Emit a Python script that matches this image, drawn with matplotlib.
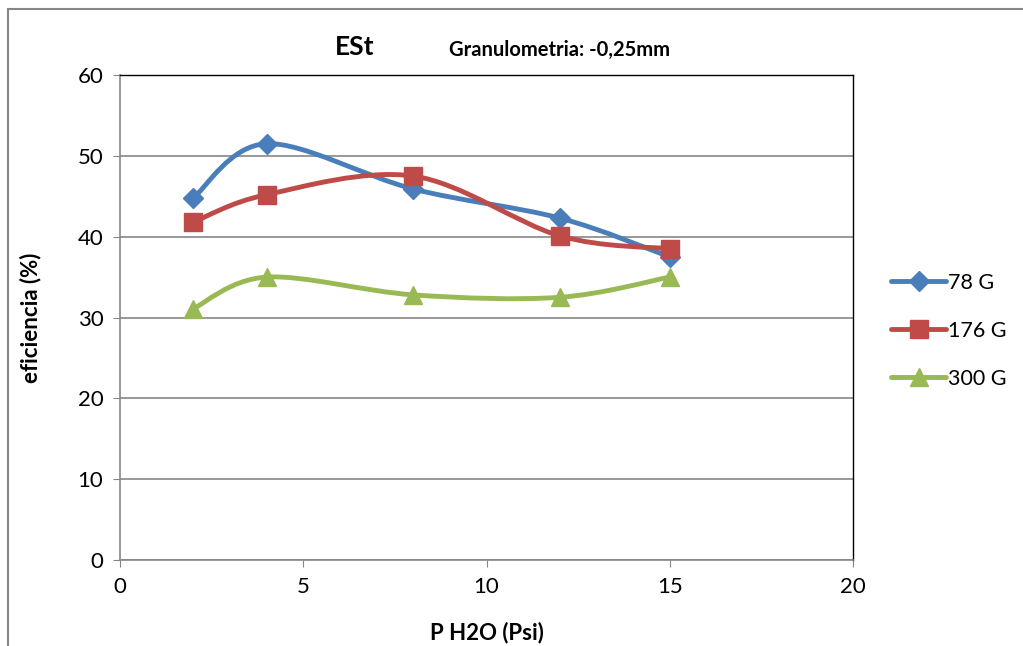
import numpy as np
import matplotlib.pyplot as plt
from matplotlib.path import Path
from matplotlib.patches import PathPatch
from matplotlib.lines import Line2D

plt.rcParams['font.family'] = ['Lato', 'DejaVu Sans']

# Data
psi = [2, 4, 8, 12, 15]
ef_78 = [44.8, 51.5, 45.9, 42.3, 37.5]
ef_176 = [41.8, 45.2, 47.5, 40.1, 38.5]
ef_300 = [31.1, 35.0, 32.8, 32.5, 35.0]

labels = ['78 G', '176 G', '300 G']
colors = ['#4a7ebb', '#be4b48', '#98b954']
markers = ['D', 's', '^']
msizes = [10, 13, 13]


def smooth_path(x, y):
    # cubic bezier through all points (catmull-rom style tangents)
    pts = np.column_stack([x, y]).astype(float)
    n = len(pts)
    verts = [pts[0]]
    codes = [Path.MOVETO]
    for i in range(n - 1):
        p0 = pts[i - 1] if i > 0 else pts[i]
        p1 = pts[i]
        p2 = pts[i + 1]
        p3 = pts[i + 2] if i + 2 < n else pts[i + 1]
        c1 = p1 + (p2 - p0) / 6.0
        c2 = p2 - (p3 - p1) / 6.0
        verts += [c1, c2, p2]
        codes += [Path.CURVE4] * 3
    return Path(verts, codes)


fig = plt.figure(figsize=(10.23, 6.46), dpi=100)
ax = fig.add_axes([120 / 1023, 1 - 560 / 646, (853 - 120) / 1023, (560 - 75) / 646])

for vals, c, m, ms, lab in zip([ef_78, ef_176, ef_300], colors, markers, msizes, labels):
    patch = PathPatch(smooth_path(psi, vals), facecolor='none', edgecolor=c,
                      linewidth=3.5, capstyle='round', joinstyle='round', zorder=3)
    ax.add_patch(patch)
    ax.plot(psi, vals, linestyle='none', marker=m, markersize=ms, color=c,
            markeredgecolor=c, zorder=4)

ax.set_xlim(0, 20)
ax.set_ylim(0, 60)
ax.set_xticks([0, 5, 10, 15, 20])
ax.set_yticks(range(0, 61, 10))
ax.grid(axis='y', color='#868686', linewidth=1.2)
ax.set_axisbelow(True)
ax.tick_params(labelsize=16, length=5, color='#868686', direction='out', pad=7)
for s in ['left', 'bottom']:
    ax.spines[s].set_color('#868686')
    ax.spines[s].set_linewidth(1.2)
for s in ['top', 'right']:
    ax.spines[s].set_color('#000000')
    ax.spines[s].set_linewidth(1.0)

ax.set_xlabel('P H2O (Psi)', fontsize=16, fontweight='bold', labelpad=18)
ax.set_ylabel('eficiencia (%)', fontsize=16, fontweight='bold', labelpad=26)

fig.text(355 / 1023, 1 - 47 / 646, 'ESt', fontsize=19, fontweight='bold',
         ha='center', va='center')
fig.text(449 / 1023, 1 - 50 / 646, 'Granulometria: -0,25mm', fontsize=14.5,
         fontweight='bold', ha='left', va='center')

# legend on the right
handles = [Line2D([], [], color=c, marker=m, markersize=ms, linewidth=3.5,
                  solid_capstyle='round')
           for c, m, ms in zip(colors, markers, msizes)]
fig.legend(handles, labels, loc='center left', bbox_to_anchor=(872 / 1023, 1 - 331 / 646),
           frameon=False, fontsize=15.5, handlelength=2.55, handletextpad=0.1,
           labelspacing=1.3)

# outer chart border
fig.add_artist(plt.Line2D([8 / 1023, 8 / 1023], [0, 1 - 9 / 646], color='#868686',
                          linewidth=1.5, transform=fig.transFigure))
fig.add_artist(plt.Line2D([8 / 1023, 1], [1 - 9 / 646, 1 - 9 / 646], color='#868686',
                          linewidth=1.5, transform=fig.transFigure))

fig.savefig('out.png', dpi=100)
